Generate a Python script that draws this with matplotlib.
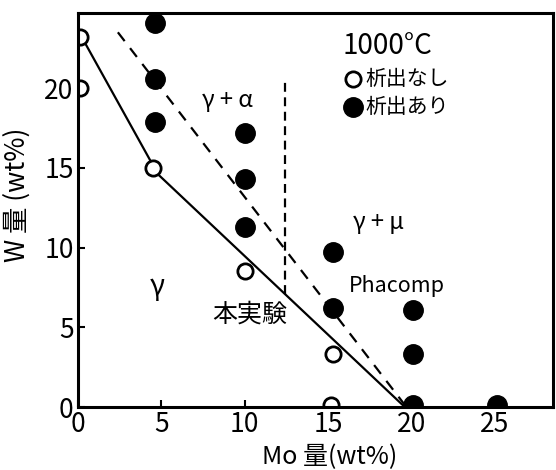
import numpy as np
import matplotlib.pyplot as plt

plt.rcParams['font.family'] = ['Noto Sans CJK JP', 'DejaVu Sans']

# data: W vs Mo, 1000C
# open = no precipitation, filled = precipitation
mo_open = [0.1, 0.1, 4.5, 10, 15.3, 15.2]
w_open = [23.2, 20.0, 15.0, 8.5, 3.3, 0.1]

mo_fill = [4.6, 4.6, 4.6, 10, 10, 10, 15.3, 15.3, 20.1, 20.1, 20.1, 25.1]
w_fill = [24.1, 20.6, 17.9, 17.2, 14.3, 11.3, 9.7, 6.2, 6.1, 3.3, 0.15, 0.15]

# boundary from this work (solid)
mo_exp = [0.5, 4.8, 19.6]
w_exp = [22.7, 14.6, 0.0]

# Phacomp boundary (dashed)
mo_pha = [2.4, 19.7]
w_pha = [23.5, 0.0]

# vertical dashed line
mo_v = [12.4, 12.4]
w_v = [7.1, 20.5]

fig = plt.figure(figsize=(5.56, 4.70), dpi=100)
ax = fig.add_axes([0.140, 0.134, 0.855, 0.838])

ax.plot(mo_exp, w_exp, '-k', lw=1.6)
ax.plot(mo_pha, w_pha, '--k', lw=1.6, dashes=(5, 4))
ax.plot(mo_v, w_v, '--k', lw=1.6, dashes=(4, 2.5))

h_open = ax.scatter(mo_open, w_open, s=121, facecolors='white',
                    edgecolors='k', linewidths=2.0, label='析出なし', zorder=3)
h_fill = ax.scatter(mo_fill, w_fill, s=196, c='k', label='析出あり', zorder=3)

ax.set_xlim(0, 28.5)
ax.set_ylim(0, 24.7)
ax.set_xticks([0, 5, 10, 15, 20, 25])
ax.set_yticks([0, 5, 10, 15, 20])
ax.tick_params(direction='in', length=5, width=1.5, labelsize=19, pad=3)
for s in ax.spines.values():
    s.set_linewidth(2.2)
    s.set_zorder(4)

ax.set_xlabel('Mo 量(wt%)', fontsize=18, labelpad=0)
ax.xaxis.set_label_coords(0.53, -0.095)
ax.set_ylabel('W 量 (wt%)', fontsize=19, style='italic')
ax.yaxis.set_label_coords(-0.10, 0.54)

# region labels
ax.text(9.0, 19.2, 'γ + α', fontsize=17, ha='center', va='center')
ax.text(18.0, 11.6, 'γ + μ', fontsize=17, ha='center', va='center')
ax.text(4.75, 7.5, 'γ', fontsize=20, ha='center', va='center')
ax.text(19.1, 7.6, 'Phacomp', fontsize=15.5, ha='center', va='center')
ax.text(10.3, 5.8, '本実験', fontsize=18, ha='center', va='center')

leg = ax.legend(handles=[h_open, h_fill], title='1000°C', loc='upper left',
                bbox_to_anchor=(0.54, 0.975), frameon=False, fontsize=15,
                title_fontsize=20, handletextpad=0.1, handlelength=1.0,
                labelspacing=0.3, borderaxespad=0)
leg._legend_box.align = 'left'

fig.savefig('out.png', dpi=100)
